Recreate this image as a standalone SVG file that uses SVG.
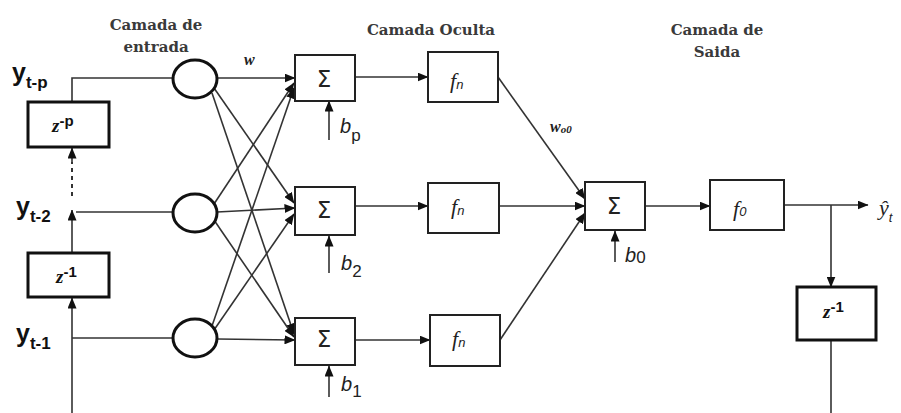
<svg xmlns="http://www.w3.org/2000/svg" width="901" height="413" viewBox="0 0 901 413">
<defs>
<marker id="ah" markerWidth="11" markerHeight="9" refX="10.5" refY="4.5" orient="auto" markerUnits="userSpaceOnUse"><path d="M0,0 L11,4.5 L0,9 z" fill="#111"/></marker>
<style>
.bg{fill:#fff}
.ln{stroke:#333;stroke-width:1.6;fill:none}
.lnd{stroke:#333;stroke-width:2;fill:none;stroke-dasharray:4 4}
.box{fill:#fff;stroke:#222;stroke-width:2}
.zbox{fill:#fff;stroke:#111;stroke-width:3}
.circ{fill:#fff;stroke:#111;stroke-width:3}
.title{font-family:"DejaVu Serif",serif;font-weight:bold;font-size:15px;fill:#3a3a3a;text-anchor:middle}
.yl{font-family:"Liberation Sans",Arial,sans-serif;font-weight:bold;font-size:25px;fill:#111}
.ys{font-size:17px}
.z{font-family:"Liberation Serif",serif;font-style:italic;font-weight:bold;font-size:19px;fill:#111}
.zs{font-family:"Liberation Sans",sans-serif;font-style:normal;font-size:15px}
.sig{font-family:"DejaVu Sans",sans-serif;font-size:23px;fill:#222;text-anchor:middle}
.f{font-family:"Liberation Serif",serif;font-style:italic;font-size:22px;fill:#222}
.fs{font-size:13px;font-family:"Liberation Sans",sans-serif}
.b{font-family:"Liberation Sans",sans-serif;font-style:italic;font-size:20px;fill:#222}
.bs{font-style:normal;font-size:17px}
.w{font-family:"Liberation Serif",serif;font-style:italic;font-weight:bold;font-size:16px;fill:#222}
</style>
</defs>
<rect class="bg" x="0" y="0" width="901" height="413"/>

<g id="titles">
<text class="title" x="156" y="30">Camada de</text>
<text class="title" x="156" y="52">entrada</text>
<text class="title" x="431" y="35">Camada Oculta</text>
<text class="title" x="717" y="35">Camada de</text>
<text class="title" x="717" y="57">Saida</text>
</g>

<g id="connectors">
<polyline class="ln" points="72,102 72,78 173,78"/>
<line class="ln" x1="76" y1="212" x2="173" y2="212"/>
<line class="ln" x1="72" y1="338" x2="173" y2="338"/>
<line class="ln" x1="72" y1="413" x2="72" y2="298" marker-end="url(#ah)"/>
<line class="ln" x1="72" y1="253" x2="72" y2="210" marker-end="url(#ah)"/>
<line class="lnd" x1="72" y1="196" x2="72" y2="162"/>
<line class="ln" x1="72" y1="163" x2="72" y2="148" marker-end="url(#ah)"/>
<line class="ln" x1="217" y1="78" x2="295" y2="78" marker-end="url(#ah)"/>
<line class="ln" x1="214" y1="88" x2="294" y2="203" marker-end="url(#ah)"/>
<line class="ln" x1="212" y1="93" x2="294" y2="334" marker-end="url(#ah)"/>
<line class="ln" x1="214" y1="204" x2="294" y2="83" marker-end="url(#ah)"/>
<line class="ln" x1="217" y1="212" x2="295" y2="208" marker-end="url(#ah)"/>
<line class="ln" x1="214" y1="220" x2="294" y2="337" marker-end="url(#ah)"/>
<line class="ln" x1="212" y1="326" x2="294" y2="88" marker-end="url(#ah)"/>
<line class="ln" x1="214" y1="330" x2="294" y2="214" marker-end="url(#ah)"/>
<line class="ln" x1="217" y1="339" x2="295" y2="340" marker-end="url(#ah)"/>
<line class="ln" x1="355" y1="77" x2="428" y2="77" marker-end="url(#ah)"/>
<line class="ln" x1="355" y1="206" x2="428" y2="206" marker-end="url(#ah)"/>
<line class="ln" x1="355" y1="340" x2="430" y2="340" marker-end="url(#ah)"/>
<line class="ln" x1="329" y1="140" x2="329" y2="101" marker-end="url(#ah)"/>
<line class="ln" x1="329" y1="273" x2="329" y2="236" marker-end="url(#ah)"/>
<line class="ln" x1="329" y1="397" x2="329" y2="366" marker-end="url(#ah)"/>
<line class="ln" x1="615" y1="262" x2="615" y2="231" marker-end="url(#ah)"/>
<line class="ln" x1="498" y1="77" x2="585" y2="199" marker-end="url(#ah)"/>
<line class="ln" x1="499" y1="206" x2="585" y2="206" marker-end="url(#ah)"/>
<line class="ln" x1="500" y1="340" x2="585" y2="213" marker-end="url(#ah)"/>
<line class="ln" x1="645" y1="206" x2="710" y2="206" marker-end="url(#ah)"/>
<line class="ln" x1="784" y1="205" x2="868" y2="205" marker-end="url(#ah)"/>
<line class="ln" x1="831" y1="205" x2="831" y2="287" marker-end="url(#ah)"/>
<line class="ln" x1="831" y1="341" x2="831" y2="413"/>
</g>

<g id="in-labels">
<text class="yl" x="12" y="81">y<tspan class="ys" dy="7">t-p</tspan></text>
<text class="yl" x="16" y="215">y<tspan class="ys" dy="7">t-2</tspan></text>
<text class="yl" x="16" y="342">y<tspan class="ys" dy="7">t-1</tspan></text>
</g>

<g id="zp"><rect class="zbox" x="28" y="102" width="81" height="45"/><text class="z" x="52" y="132">z<tspan class="zs" dy="-6" font-size="17">-p</tspan></text></g>
<g id="z1-left"><rect class="zbox" x="28" y="253" width="81" height="44"/><text class="z" x="56" y="283">z<tspan class="zs" dy="-6" font-size="16">-1</tspan></text></g>

<g id="in1"><ellipse class="circ" cx="195" cy="79" rx="22" ry="19"/></g>
<g id="in2"><ellipse class="circ" cx="195" cy="213" rx="22" ry="19"/></g>
<g id="in3"><ellipse class="circ" cx="195" cy="338" rx="22" ry="19"/></g>
<text class="w" x="244" y="65">w</text>

<g id="s1"><rect class="box" x="295" y="55" width="60" height="46"/><text class="sig" x="324" y="87">Σ</text></g>
<g id="s2"><rect class="box" x="295" y="187" width="60" height="48"/><text class="sig" x="324" y="218">Σ</text></g>
<g id="s3"><rect class="box" x="295" y="318" width="60" height="47"/><text class="sig" x="324" y="347">Σ</text></g>
<text class="b" x="340" y="133">b<tspan class="bs" dy="8">p</tspan></text>
<text class="b" x="341" y="270">b<tspan class="bs" dy="7">2</tspan></text>
<text class="b" x="341" y="391">b<tspan class="bs" dy="6">1</tspan></text>

<g id="f1"><rect class="box" x="428" y="52" width="70" height="50"/><text class="f" x="450" y="88">f<tspan class="fs" dy="1">n</tspan></text></g>
<g id="f2"><rect class="box" x="428" y="183" width="71" height="50"/><text class="f" x="451" y="214">f<tspan class="fs" dy="1">n</tspan></text></g>
<g id="f3"><rect class="box" x="430" y="315" width="70" height="51"/><text class="f" x="452" y="346">f<tspan class="fs" dy="1">n</tspan></text></g>
<text class="w" x="550" y="132">w<tspan font-size="11" dy="1">o0</tspan></text>

<g id="so"><rect class="box" x="585" y="182" width="60" height="48"/><text class="sig" x="614" y="214">Σ</text></g>
<text class="b" x="625" y="262">b<tspan class="bs" font-size="13" dy="1">0</tspan></text>

<g id="f0"><rect class="box" x="710" y="180" width="74" height="50"/><text class="f" x="733" y="216">f<tspan class="fs" font-size="17" dy="0">0</tspan></text></g>

<g id="z1-right"><rect class="zbox" x="797" y="287" width="79" height="53"/><text class="z" x="823" y="318">z<tspan class="zs" dy="-6" font-size="16">-1</tspan></text></g>

<g id="out-label"><text class="f" x="879" y="215" font-size="26">ŷ<tspan class="fs" font-size="17" dy="7">t</tspan></text></g>
</svg>
